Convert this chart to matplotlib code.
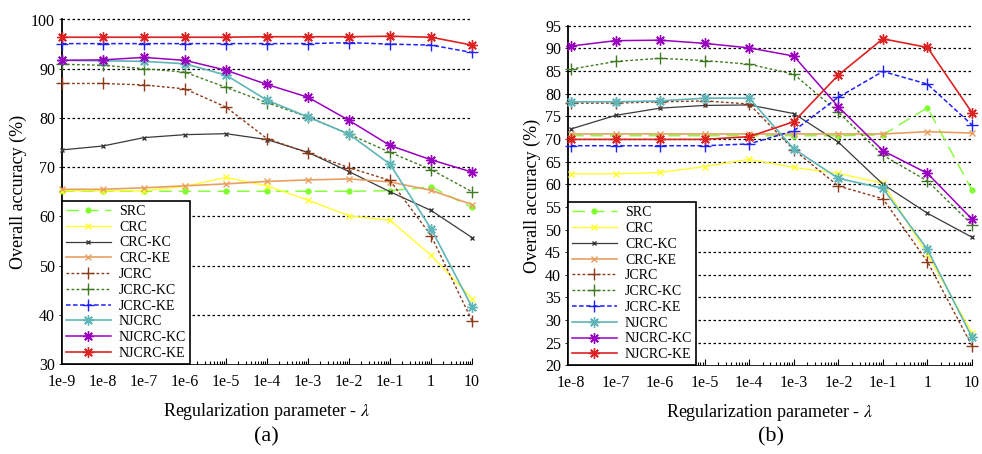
import numpy as np
import matplotlib
matplotlib.use("Agg")
import matplotlib.pyplot as plt

plt.rcParams['font.family'] = ['Liberation Serif', 'DejaVu Serif']
plt.rcParams['mathtext.fontset'] = 'stix'

# ---------------- data ----------------
series_names = ['SRC', 'CRC', 'CRC-KC', 'CRC-KE', 'JCRC', 'JCRC-KC', 'JCRC-KE',
                'NJCRC', 'NJCRC-KC', 'NJCRC-KE']

ticks_a = ['1e-9', '1e-8', '1e-7', '1e-6', '1e-5', '1e-4', '1e-3', '1e-2', '1e-1', '1', '10']
ticks_b = ['1e-8', '1e-7', '1e-6', '1e-5', '1e-4', '1e-3', '1e-2', '1e-1', '1', '10']

src_a      = [65.1, 65.1, 65.1, 65.1, 65.1, 65.1, 65.1, 65.1, 65.2, 66.0, 61.8]
crc_a      = [65.2, 65.2, 65.2, 66.1, 67.9, 66.2, 63.3, 60.1, 59.2, 52.1, 43.3]
crckc_a    = [73.5, 74.3, 76.0, 76.6, 76.8, 75.6, 73.0, 69.1, 65.0, 61.2, 55.7]
crcke_a    = [65.5, 65.5, 65.8, 66.2, 66.6, 67.1, 67.4, 67.6, 67.0, 65.3, 62.4]
jcrc_a     = [87.0, 87.0, 86.7, 85.9, 82.2, 75.8, 72.9, 69.9, 67.3, 56.1, 38.8]
jcrckc_a   = [90.9, 90.7, 90.0, 89.3, 86.2, 83.1, 80.2, 76.7, 73.0, 69.5, 65.0]
jcrcke_a   = [95.1, 95.1, 95.1, 95.1, 95.1, 95.1, 95.1, 95.3, 95.0, 94.8, 93.3]
njcrc_a    = [91.7, 91.6, 91.5, 91.0, 88.7, 83.6, 80.2, 76.7, 70.6, 57.5, 41.6]
njcrckc_a  = [91.7, 91.8, 92.3, 91.7, 89.7, 86.8, 84.2, 79.5, 74.4, 71.5, 69.0]
njcrcke_a  = [96.4, 96.4, 96.4, 96.4, 96.4, 96.5, 96.5, 96.5, 96.6, 96.4, 94.8]

src_b      = [70.7, 70.7, 70.7, 70.7, 70.7, 70.7, 70.7, 70.9, 76.9, 58.7]
crc_b      = [62.3, 62.3, 62.6, 63.9, 65.5, 63.7, 62.4, 60.2, 44.5, 27.2]
crckc_b    = [72.2, 75.2, 76.8, 77.4, 77.5, 75.6, 69.3, 60.0, 53.6, 48.3]
crcke_b    = [71.1, 71.1, 71.1, 71.1, 71.1, 71.1, 71.1, 71.1, 71.6, 71.3]
jcrc_b     = [77.9, 77.9, 78.2, 78.4, 77.7, 67.6, 59.6, 56.8, 42.9, 24.3]
jcrckc_b   = [85.4, 87.1, 87.8, 87.3, 86.5, 84.3, 75.9, 66.4, 60.7, 51.1]
jcrcke_b   = [68.5, 68.5, 68.5, 68.5, 68.9, 71.8, 79.2, 84.9, 82.1, 73.1]
njcrc_b    = [78.2, 78.2, 78.4, 79.0, 79.0, 67.8, 61.3, 59.1, 45.6, 26.2]
njcrckc_b  = [90.5, 91.7, 91.8, 91.1, 90.1, 88.3, 77.1, 67.4, 62.4, 52.3]
njcrcke_b  = [69.9, 69.9, 69.9, 69.9, 70.5, 73.8, 84.1, 92.1, 90.2, 75.8]

data_a = [src_a, crc_a, crckc_a, crcke_a, jcrc_a, jcrckc_a, jcrcke_a, njcrc_a, njcrckc_a, njcrcke_a]
data_b = [src_b, crc_b, crckc_b, crcke_b, jcrc_b, jcrckc_b, jcrcke_b, njcrc_b, njcrckc_b, njcrcke_b]

# ---------------- styles ----------------
star = (8, 2, 0)
styles = [
    dict(color='#80ff30', ls=(0, (9, 5)), marker='o', ms=3.5, lw=1.0),
    dict(color='#ffff30', ls='-', marker='x', ms=4, lw=1.0),
    dict(color='#3a3a3a', ls='-', marker='x', ms=3.5, lw=0.9),
    dict(color='#e8a060', ls='-', marker='x', ms=4, lw=1.2),
    dict(color='#8b3a1a', ls=(0, (2, 1.6)), marker='+', ms=8, lw=1.0),
    dict(color='#3f7a22', ls=(0, (2, 1.6)), marker='+', ms=8, lw=1.0),
    dict(color='#2020ff', ls=(0, (3, 1.6)), marker='+', ms=8, lw=1.1),
    dict(color='#5fb5b8', ls='-', marker=star, ms=7.5, lw=1.2),
    dict(color='#9a00c0', ls='-', marker=star, ms=7.5, lw=1.1),
    dict(color='#dd2222', ls='-', marker=star, ms=7.5, lw=1.2),
]

fig = plt.figure(figsize=(9.82, 4.54), dpi=100)
W, H = 982.0, 454.0

def make_axes(px_left, px_right, px_top, px_bot):
    return fig.add_axes([px_left / W, 1 - px_bot / H, (px_right - px_left) / W, (px_bot - px_top) / H])

ax_a = make_axes(62, 472, 19.5, 364)
ax_b = make_axes(568, 972, 25.7, 365.4)

def style_axes(ax, ticks, data, ylo, yhi, ystep, xlim, label, labx):
    n = len(ticks)
    x = np.arange(n)
    for name, vals, st in zip(series_names, data, styles):
        ax.plot(x, vals, label=name, color=st['color'], linestyle=st['ls'], lw=st['lw'],
                marker=st['marker'], markersize=st['ms'], markeredgewidth=1.0,
                clip_on=False, zorder=3)
    ax.set_xlim(*xlim)
    ax.set_ylim(ylo, yhi)
    yt = np.arange(ylo, yhi + 0.1, ystep)
    ax.set_yticks(yt)
    ax.set_yticklabels([str(int(v)) for v in yt], fontsize=11.5)
    ax.set_xticks(x)
    ax.set_xticklabels(ticks, fontsize=11.5)
    minors = []
    for i in range(n - 1):
        for k in range(2, 10):
            minors.append(i + np.log10(k))
    ax.set_xticks(minors, minor=True)
    ax.tick_params(axis='x', which='major', direction='in', length=4, width=0.8, pad=7)
    ax.tick_params(axis='x', which='minor', direction='in', length=2.5, width=0.8)
    ax.tick_params(axis='y', which='major', direction='out', length=2, width=0.6, pad=3)
    for v in yt[1:]:
        ax.axhline(v, color='black', lw=0.9, ls=(0, (2, 2)), zorder=1, clip_on=False)
    ax.spines['top'].set_visible(False)
    ax.spines['right'].set_visible(False)
    ax.spines['left'].set_linewidth(1.3)
    ax.spines['bottom'].set_linewidth(0.6)
    ax.set_xlabel(r'Regularization parameter - $\lambda$', fontsize=13, labelpad=8)
    ax.set_ylabel('Overall accuracy (%)', fontsize=13, labelpad=3)
    leg = ax.legend(loc='lower left', bbox_to_anchor=(0, 0), borderaxespad=0,
                    fontsize=10, handlelength=3.2, handletextpad=0.6,
                    labelspacing=0.2, borderpad=0.3, frameon=True, fancybox=False,
                    framealpha=1.0)
    leg.get_frame().set_edgecolor('black')
    leg.get_frame().set_linewidth(1.2)
    leg.set_zorder(5)
    fig.text(labx / W, 1 - 437 / H, label, fontsize=16, ha='center', va='center')

style_axes(ax_a, ticks_a, data_a, 30, 100, 10, (0, 10), '(a)', 266)
style_axes(ax_b, ticks_b, data_b, 20, 95, 5, (-0.067, 9.0), '(b)', 771)

fig.savefig('out.png', dpi=100)
